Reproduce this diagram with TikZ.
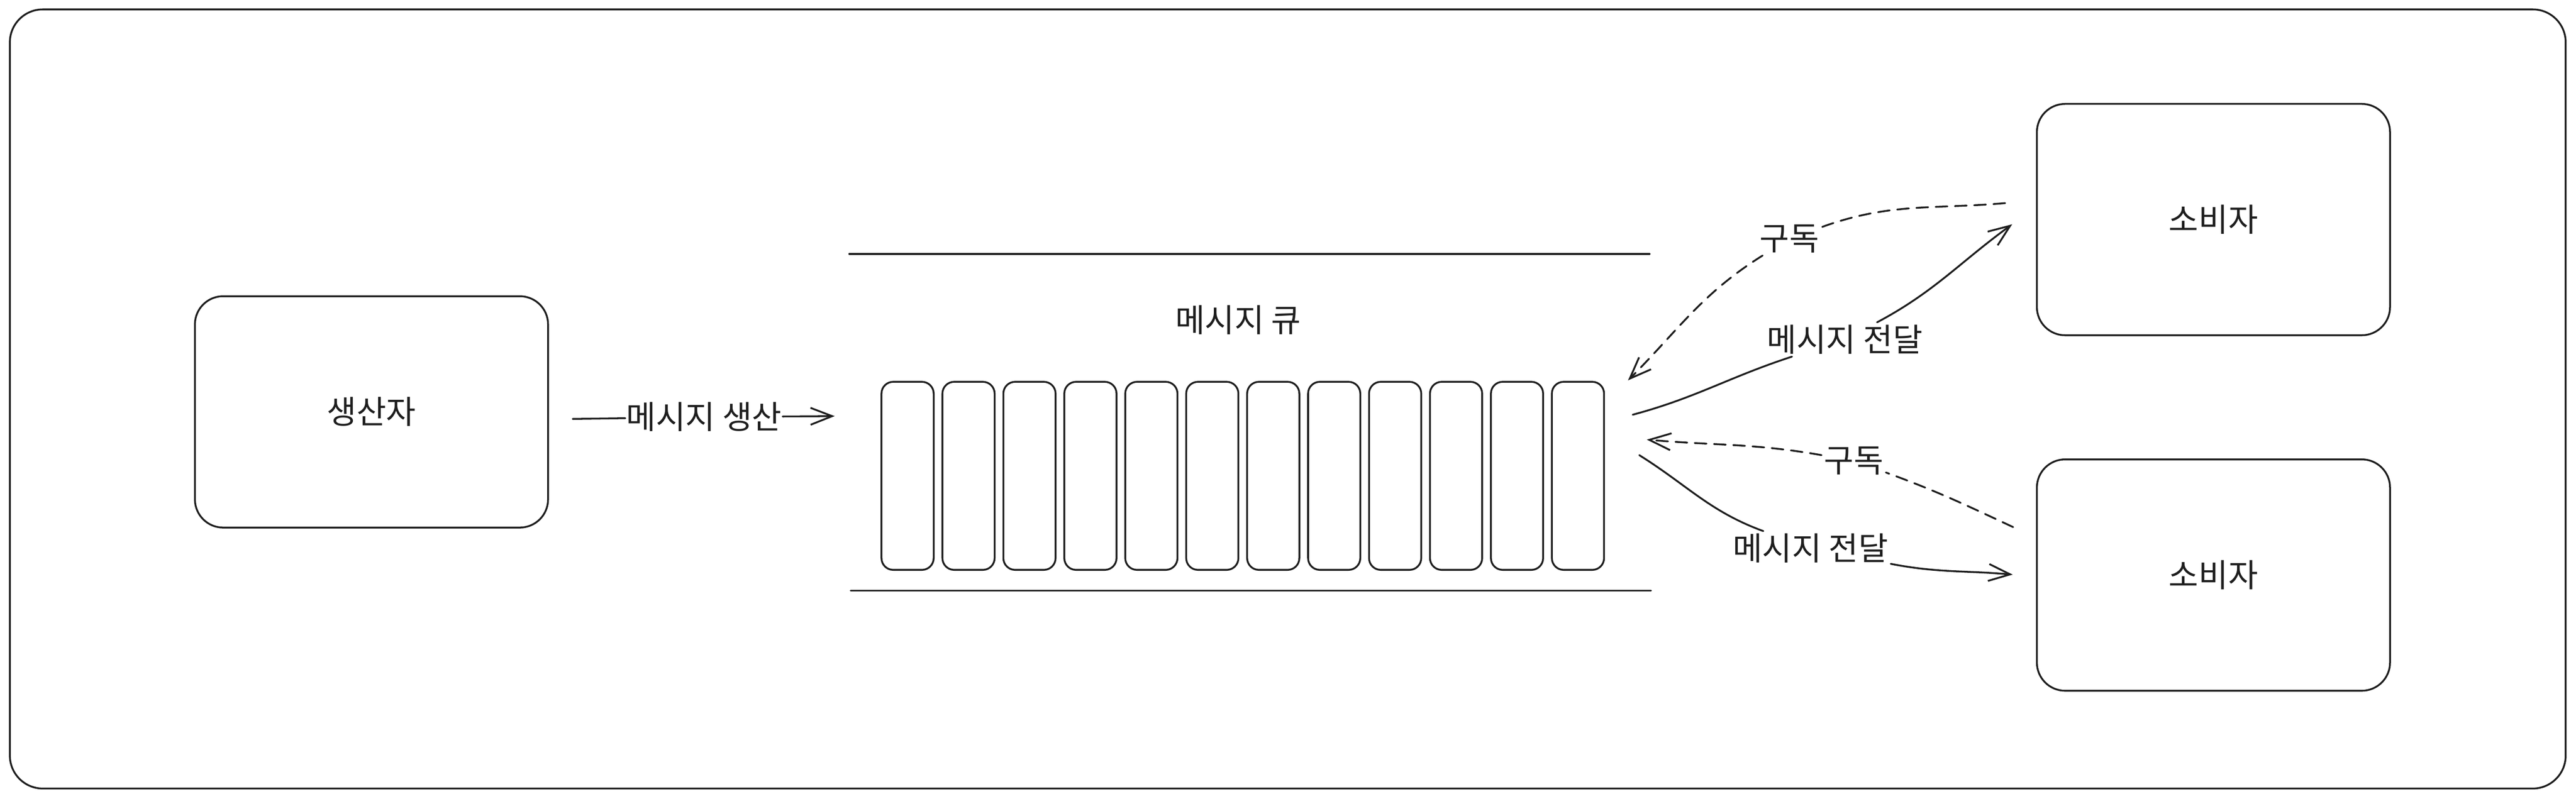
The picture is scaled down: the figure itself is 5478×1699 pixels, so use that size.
\documentclass[tikz,border=0pt]{standalone}
\usepackage{fontspec}
\setmainfont{Noto Sans CJK KR}
\usetikzlibrary{arrows.meta}
\definecolor{ink}{HTML}{1E1E1E}
\begin{document}
\begin{tikzpicture}
[x=.1mm, y=-.1mm, color=ink, line width=1.1pt, line cap=round, line join=round,
 font=\fontsize{19.5}{23}\selectfont,
 box/.style={draw,rounded corners=6mm,minimum width=75.1mm,minimum height=49.2mm},
 cell/.style={draw,rounded corners=2.5mm,minimum width=11.1mm,minimum height=40mm,inner sep=0pt},
 lbl/.style={fill=white,inner sep=1pt},
 arr/.style={-{Straight Barb[length=4.6mm,width=3.6mm]}},
 dsh/.style={dash pattern=on 2.5mm off 1.6mm}]
\useasboundingbox (0,0) rectangle (5478,1699);
\draw[rounded corners=7mm] (21,20) rectangle (5456,1677);
\node(p) at (790,876)[box]{생산자};
\node(c1) at (4707,467)[box]{소비자};\node(c2) at (4707,1223)[box]{소비자};
\draw (1806,540)--(3508,540);\draw (1809,1256)--(3511,1256);
\node(ql) at (2633,680){메시지 큐};
\foreach \i in {0,...,11} \node(q\i) at ({1930+129.6*\i},1012)[cell]{};
% producer -> queue
\coordinate(pa) at (1218,891);\coordinate(pb) at (1775,885);
\node(lp) at (1497,887)[lbl,inner sep=0pt]{메시지 생산};
\draw (pa)--(lp);\draw[arr] (lp)--(pb);
% subscriptions
\coordinate(s1) at (4264,432);\coordinate(e1) at (3462,809);
\node(l1) at (3805,508)[lbl]{구독};
\draw[dsh] (s1) to[out=185,in=20] (l1);\draw[dsh,arr] (l1) to[out=212,in=45] (e1);
\coordinate(s3) at (4281,1121);\coordinate(e3) at (3502,935);
\node(l3) at (3942,980)[lbl]{구독};
\draw[dsh] (s3) to[out=155,in=-20] (l3);\draw[dsh,arr] (l3) to[out=170,in=-5] (e3);
% delivery
\coordinate(s2) at (3472,882);\coordinate(e2) at (4279,477);
\node(l2) at (3923,722)[lbl]{메시지 전달};
\draw (s2) to[out=15,in=198] (l2);\draw[arr] (l2) to[out=28,in=216] (e2);
\coordinate(s4) at (3486,968);\coordinate(e4) at (4280,1222);
\node(l4) at (3850,1166)[lbl]{메시지 전달};
\draw (s4) to[out=-32,in=160] (l4);\draw[arr] (l4) to[out=-11,in=175] (e4);
\end{tikzpicture}
\end{document}
